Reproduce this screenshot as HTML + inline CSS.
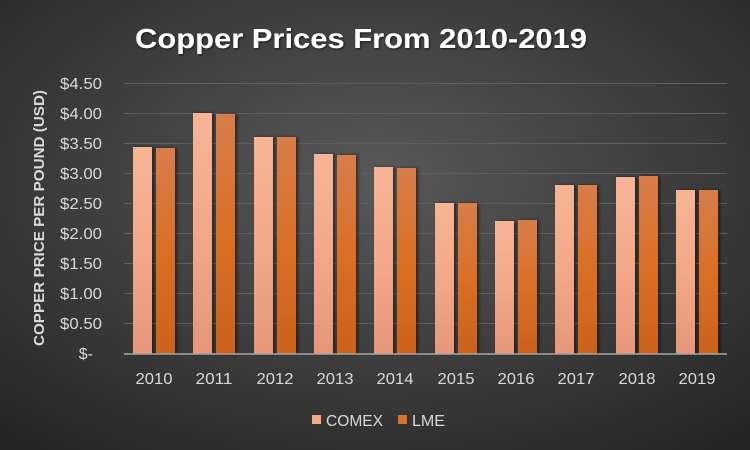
<!DOCTYPE html>
<html><head><meta charset="utf-8"><style>
html,body{margin:0;padding:0;width:750px;height:450px;overflow:hidden;}
svg{display:block;font-family:"Liberation Sans",sans-serif;}
</style></head><body>
<svg width="750" height="450" viewBox="0 0 750 450" xmlns="http://www.w3.org/2000/svg">
<defs>
<radialGradient id="bg" cx="0.5" cy="0.4" r="0.75">
<stop offset="0" stop-color="#595959"/>
<stop offset="1" stop-color="#252525"/>
</radialGradient>
<linearGradient id="gc" x1="0" y1="0" x2="0" y2="1">
<stop offset="0" stop-color="#f6b596"/>
<stop offset="0.5" stop-color="#f3a888"/>
<stop offset="1" stop-color="#e6967a"/>
</linearGradient>
<linearGradient id="gl" x1="0" y1="0" x2="0" y2="1">
<stop offset="0" stop-color="#d87c4a"/>
<stop offset="0.5" stop-color="#da6f25"/>
<stop offset="1" stop-color="#cc621c"/>
</linearGradient>
<filter id="sh" x="-20%" y="-5%" width="150%" height="110%"><feDropShadow dx="2" dy="0" stdDeviation="1.5" flood-color="#000" flood-opacity="0.5"/></filter>
<filter id="tsh"><feDropShadow dx="1" dy="1" stdDeviation="1" flood-color="#000" flood-opacity="0.6"/></filter>
</defs>
<rect width="750" height="450" fill="url(#bg)"/>
<text x="361" y="48" text-anchor="middle" font-size="28" font-weight="bold" fill="#fff" textLength="452" lengthAdjust="spacingAndGlyphs" filter="url(#tsh)">Copper Prices From 2010-2019</text>
<g stroke="#5e5e5e" stroke-width="1">
<line x1="124" x2="727" y1="83.5" y2="83.5"/>
<line x1="124" x2="727" y1="113.5" y2="113.5"/>
<line x1="124" x2="727" y1="143.5" y2="143.5"/>
<line x1="124" x2="727" y1="173.5" y2="173.5"/>
<line x1="124" x2="727" y1="203.5" y2="203.5"/>
<line x1="124" x2="727" y1="233.5" y2="233.5"/>
<line x1="124" x2="727" y1="263.5" y2="263.5"/>
<line x1="124" x2="727" y1="293.5" y2="293.5"/>
<line x1="124" x2="727" y1="323.5" y2="323.5"/>
</g>
<g font-size="16" fill="#d9d9d9" text-anchor="end">
<text x="102" y="89" textLength="42" lengthAdjust="spacingAndGlyphs">$4.50</text>
<text x="102" y="119" textLength="42" lengthAdjust="spacingAndGlyphs">$4.00</text>
<text x="102" y="149" textLength="42" lengthAdjust="spacingAndGlyphs">$3.50</text>
<text x="102" y="179" textLength="42" lengthAdjust="spacingAndGlyphs">$3.00</text>
<text x="102" y="209" textLength="42" lengthAdjust="spacingAndGlyphs">$2.50</text>
<text x="102" y="239" textLength="42" lengthAdjust="spacingAndGlyphs">$2.00</text>
<text x="102" y="269" textLength="42" lengthAdjust="spacingAndGlyphs">$1.50</text>
<text x="102" y="299" textLength="42" lengthAdjust="spacingAndGlyphs">$1.00</text>
<text x="102" y="329" textLength="42" lengthAdjust="spacingAndGlyphs">$0.50</text>
<text x="93" y="359">$-</text>
</g>
<text transform="translate(44,218) rotate(-90)" text-anchor="middle" font-size="15" font-weight="bold" fill="#d9d9d9" textLength="256" lengthAdjust="spacingAndGlyphs">COPPER PRICE PER POUND (USD)</text>
<g filter="url(#sh)">
<rect x="133" y="147" width="19" height="207" fill="url(#gc)"/>
<rect x="156" y="148" width="19" height="206" fill="url(#gl)"/>
<rect x="193" y="113" width="19" height="241" fill="url(#gc)"/>
<rect x="216" y="114" width="19" height="240" fill="url(#gl)"/>
<rect x="254" y="137" width="19" height="217" fill="url(#gc)"/>
<rect x="277" y="137" width="19" height="217" fill="url(#gl)"/>
<rect x="314" y="154" width="19" height="200" fill="url(#gc)"/>
<rect x="337" y="155" width="19" height="199" fill="url(#gl)"/>
<rect x="374" y="167" width="19" height="187" fill="url(#gc)"/>
<rect x="397" y="168" width="19" height="186" fill="url(#gl)"/>
<rect x="435" y="203" width="19" height="151" fill="url(#gc)"/>
<rect x="458" y="203" width="19" height="151" fill="url(#gl)"/>
<rect x="495" y="221" width="19" height="133" fill="url(#gc)"/>
<rect x="518" y="220" width="19" height="134" fill="url(#gl)"/>
<rect x="555" y="185" width="19" height="169" fill="url(#gc)"/>
<rect x="578" y="185" width="19" height="169" fill="url(#gl)"/>
<rect x="616" y="177" width="19" height="177" fill="url(#gc)"/>
<rect x="639" y="176" width="19" height="178" fill="url(#gl)"/>
<rect x="676" y="190" width="19" height="164" fill="url(#gc)"/>
<rect x="699" y="190" width="19" height="164" fill="url(#gl)"/>
</g>
<line x1="124" x2="727" y1="354" y2="354" stroke="#a6a6a6" stroke-width="1.5"/>
<g font-size="16" fill="#d9d9d9" text-anchor="middle">
<text x="154" y="384" textLength="37" lengthAdjust="spacingAndGlyphs">2010</text>
<text x="214" y="384" textLength="37" lengthAdjust="spacingAndGlyphs">2011</text>
<text x="275" y="384" textLength="37" lengthAdjust="spacingAndGlyphs">2012</text>
<text x="335" y="384" textLength="37" lengthAdjust="spacingAndGlyphs">2013</text>
<text x="395" y="384" textLength="37" lengthAdjust="spacingAndGlyphs">2014</text>
<text x="456" y="384" textLength="37" lengthAdjust="spacingAndGlyphs">2015</text>
<text x="516" y="384" textLength="37" lengthAdjust="spacingAndGlyphs">2016</text>
<text x="576" y="384" textLength="37" lengthAdjust="spacingAndGlyphs">2017</text>
<text x="637" y="384" textLength="37" lengthAdjust="spacingAndGlyphs">2018</text>
<text x="697" y="384" textLength="37" lengthAdjust="spacingAndGlyphs">2019</text>
</g>
<rect x="312" y="415" width="9" height="9" fill="#f3a888"/>
<text x="326" y="426" font-size="16" fill="#d9d9d9" textLength="57" lengthAdjust="spacingAndGlyphs">COMEX</text>
<rect x="398" y="415" width="9" height="9" fill="#da6f25"/>
<text x="412" y="426" font-size="16" fill="#d9d9d9" textLength="33" lengthAdjust="spacingAndGlyphs">LME</text>
</svg>
</body></html>
